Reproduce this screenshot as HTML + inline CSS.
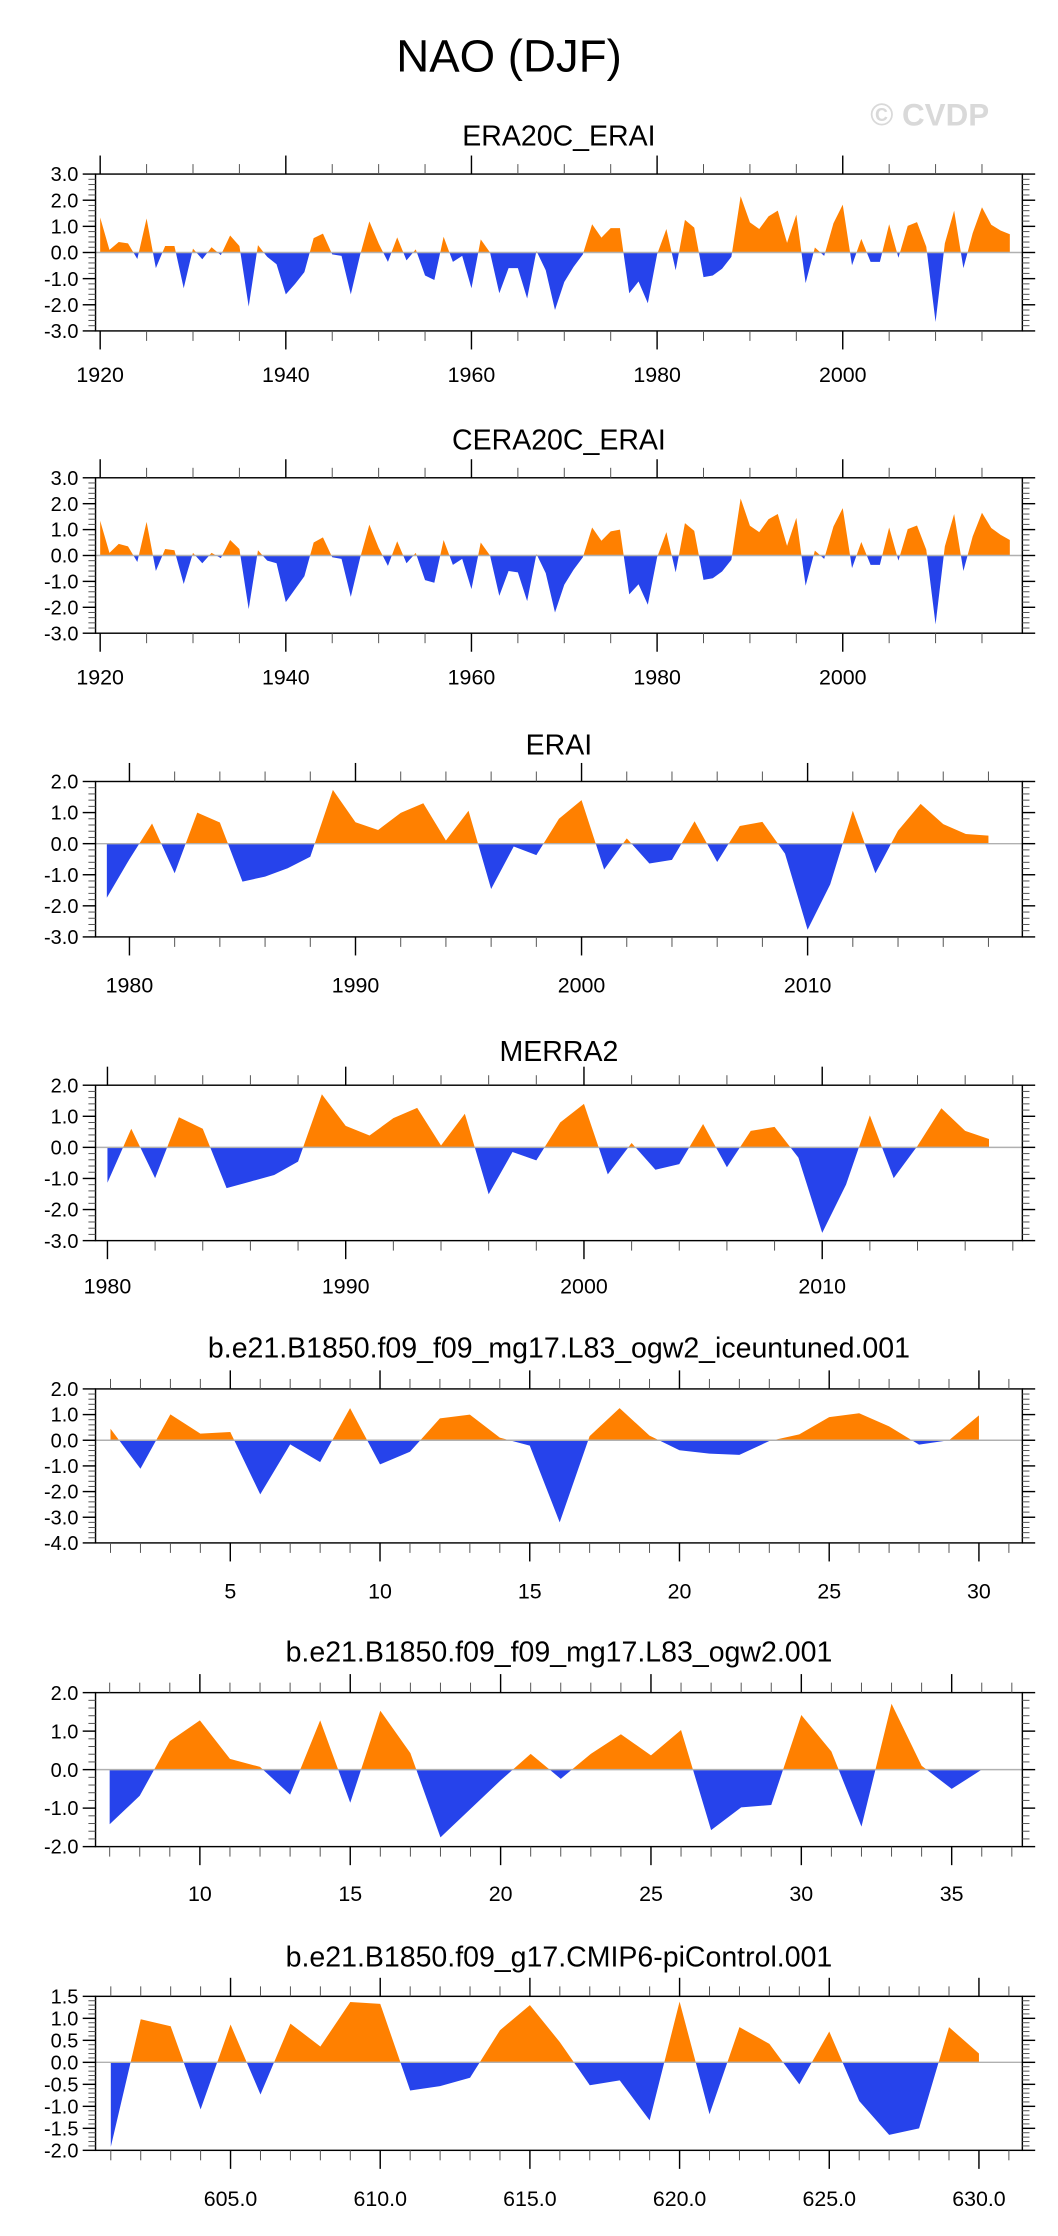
<!DOCTYPE html>
<html><head><meta charset="utf-8"><title>NAO (DJF)</title>
<style>html,body{margin:0;padding:0;background:#fff}svg{display:block}</style></head>
<body>
<svg id="chart" xmlns="http://www.w3.org/2000/svg" width="1058" height="2236" viewBox="0 0 742 1568" font-family="Liberation Sans, sans-serif">
<text x="357" y="50" font-size="32" text-anchor="middle">NAO (DJF)</text>
<text x="652" y="88" font-size="22" font-weight="bold" fill="#d9d9d9" text-anchor="middle">© CVDP</text>
</svg>
<script>
const p1Years = [];for(let y=1920;y<=2018;y++)p1Years.push(y);
const p1Vals = [1.34,0.1,0.4,0.35,-0.25,1.3,-0.6,0.25,0.25,-1.37,0.15,-0.26,0.2,-0.1,0.65,0.25,-2.07,0.28,-0.17,-0.45,-1.6,-1.2,-0.75,0.55,0.72,-0.07,-0.13,-1.6,-0.1,1.19,0.35,-0.36,0.58,-0.3,0.12,-0.88,-1.05,0.6,-0.36,-0.13,-1.37,0.5,0.0,-1.56,-0.6,-0.6,-1.76,0.06,-0.68,-2.2,-1.13,-0.55,-0.07,1.08,0.57,0.93,0.93,-1.56,-1.11,-1.94,-0.07,0.9,-0.68,1.25,0.95,-0.94,-0.88,-0.62,-0.17,2.15,1.15,0.9,1.38,1.6,0.37,1.45,-1.17,0.19,-0.13,1.12,1.83,-0.49,0.52,-0.36,-0.36,1.08,-0.2,1.02,1.16,0.22,-2.66,0.35,1.6,-0.6,0.74,1.73,1.06,0.84,0.7];
const p2Vals = [1.34,0.1,0.45,0.35,-0.25,1.3,-0.6,0.25,0.2,-1.1,0.1,-0.3,0.1,-0.1,0.6,0.25,-2.07,0.2,-0.2,-0.3,-1.8,-1.3,-0.8,0.5,0.7,-0.07,-0.13,-1.6,-0.1,1.19,0.3,-0.4,0.55,-0.3,0.1,-0.95,-1.05,0.6,-0.36,-0.13,-1.3,0.5,0.0,-1.56,-0.6,-0.65,-1.76,0.06,-0.68,-2.2,-1.13,-0.55,-0.07,1.08,0.57,0.93,1.0,-1.5,-1.11,-1.9,-0.07,0.9,-0.65,1.25,0.95,-0.94,-0.88,-0.62,-0.17,2.2,1.15,0.9,1.4,1.6,0.37,1.45,-1.17,0.19,-0.13,1.12,1.83,-0.49,0.52,-0.36,-0.36,1.08,-0.2,1.02,1.16,0.22,-2.66,0.35,1.6,-0.6,0.74,1.65,1.06,0.8,0.6];
const p3Years = [];for(let y=1979;y<=2018;y++)p3Years.push(y);
const p3Vals = [-1.74,-0.5,0.65,-0.95,1.0,0.68,-1.22,-1.06,-0.79,-0.42,1.73,0.69,0.44,0.99,1.3,0.1,1.06,-1.46,-0.09,-0.37,0.8,1.4,-0.83,0.17,-0.64,-0.52,0.72,-0.59,0.57,0.7,-0.32,-2.77,-1.31,1.06,-0.95,0.42,1.28,0.63,0.31,0.26];
const p4Years = [];for(let y=1980;y<=2017;y++)p4Years.push(y);
const p4Vals = [-1.14,0.6,-0.99,0.97,0.6,-1.31,-1.1,-0.89,-0.46,1.71,0.69,0.38,0.94,1.27,0.06,1.08,-1.51,-0.15,-0.42,0.8,1.4,-0.87,0.14,-0.72,-0.54,0.75,-0.64,0.53,0.66,-0.33,-2.75,-1.2,1.03,-0.99,0.05,1.26,0.53,0.27];
const p5Years = [];for(let y=1;y<=30;y++)p5Years.push(y);
const p5Vals = [0.45,-1.11,1.01,0.26,0.32,-2.11,-0.16,-0.85,1.25,-0.94,-0.45,0.85,1.0,0.1,-0.21,-3.2,0.16,1.25,0.18,-0.39,-0.52,-0.57,-0.03,0.23,0.9,1.05,0.54,-0.17,0.0,0.97];
const p6Years = [];for(let y=7;y<=36;y++)p6Years.push(y);
const p6Vals = [-1.42,-0.68,0.74,1.28,0.28,0.07,-0.65,1.28,-0.86,1.53,0.43,-1.76,-1.02,-0.28,0.41,-0.24,0.41,0.92,0.37,1.03,-1.57,-0.98,-0.92,1.42,0.47,-1.48,1.71,0.1,-0.5,0.0];
const p7Years = [];for(let y=601;y<=630;y++)p7Years.push(y);
const p7Vals = [-1.92,0.98,0.82,-1.07,0.86,-0.73,0.88,0.36,1.37,1.33,-0.64,-0.54,-0.35,0.73,1.3,0.46,-0.52,-0.41,-1.32,1.38,-1.18,0.8,0.42,-0.5,0.7,-0.88,-1.65,-1.5,0.8,0.2];

const NS='http://www.w3.org/2000/svg';
const svg=document.getElementById('chart');
function mk(tag,attrs,parent){const e=document.createElementNS(NS,tag);for(const k in attrs)e.setAttribute(k,attrs[k]);(parent||svg).appendChild(e);return e;}
const L=67,R=717;
const panels=[
 {id:'era20c',title:'ERA20C_ERAI',xs:p1Years,ys:p1Vals,x0:1919.5,x1:2019.35,top:122,bot:232,y0:-3,y1:3,yMaj:1,yMin:0.2,xMajStart:1920,xMaj:20,xMin:5,xMinStart:1920,xMinEnd:2015,tt:95,lt:262},
 {id:'cera20c',title:'CERA20C_ERAI',xs:p1Years,ys:p2Vals,x0:1919.5,x1:2019.35,top:335,bot:444,y0:-3,y1:3,yMaj:1,yMin:0.2,xMajStart:1920,xMaj:20,xMin:5,xMinStart:1920,xMinEnd:2015,tt:308,lt:474},
 {id:'erai',title:'ERAI',xs:p3Years,ys:p3Vals,x0:1978.5,x1:2019.5,top:548,bot:657,y0:-3,y1:2,yMaj:1,yMin:0.2,xMajStart:1980,xMaj:10,xMin:2,xMinStart:1980,xMinEnd:2018,tt:522,lt:690},
 {id:'merra2',title:'MERRA2',xs:p4Years,ys:p4Vals,x0:1979.5,x1:2018.4,top:761,bot:870,y0:-3,y1:2,yMaj:1,yMin:0.2,xMajStart:1980,xMaj:10,xMin:2,xMinStart:1980,xMinEnd:2018,tt:737,lt:901},
 {id:'iceuntuned',title:'b.e21.B1850.f09_f09_mg17.L83_ogw2_iceuntuned.001',xs:p5Years,ys:p5Vals,x0:0.5,x1:31.45,top:974,bot:1082,y0:-4,y1:2,yMaj:1,yMin:0.2,xMajStart:5,xMaj:5,xMin:1,xMinStart:1,xMinEnd:31,tt:945,lt:1115},
 {id:'ogw2',title:'b.e21.B1850.f09_f09_mg17.L83_ogw2.001',xs:p6Years,ys:p6Vals,x0:6.53,x1:37.35,top:1187,bot:1295,y0:-2,y1:2,yMaj:1,yMin:0.2,xMajStart:10,xMaj:5,xMin:1,xMinStart:7,xMinEnd:37,tt:1158,lt:1327},
 {id:'picontrol',title:'b.e21.B1850.f09_g17.CMIP6-piControl.001',xs:p7Years,ys:p7Vals,x0:600.49,x1:631.45,top:1400,bot:1508,y0:-2,y1:1.5,yMaj:0.5,yMin:0.1,xMajStart:605,xMaj:5,xMin:1,xMinStart:601,xMinEnd:631,tt:1372,lt:1541}
];
panels.forEach(p=>{
 const g=mk('g',{});
 
 
 const sx=v=>L+(v-p.x0)/(p.x1-p.x0)*(R-L);
 const sy=v=>p.bot-(v-p.y0)/(p.y1-p.y0)*(p.bot-p.top);
 const t=mk('text',{x:392,y:p.tt+7,'font-size':20,'text-anchor':'middle'},g);
 t.textContent=p.title;
 
 
 const zy=sy(0);
 let d='M'+sx(p.xs[0])+','+zy;
 p.xs.forEach((x,i)=>{d+=' L'+sx(x)+','+sy(p.ys[i]);});
 d+=' L'+sx(p.xs[p.xs.length-1])+','+zy+' Z';
 const cpU=mk('clipPath',{id:'cu-'+p.id},g);mk('rect',{x:L,y:p.top-50,width:R-L,height:zy-p.top+50},cpU);
 const cpD=mk('clipPath',{id:'cd-'+p.id},g);mk('rect',{x:L,y:zy,width:R-L,height:p.bot-zy+50},cpD);
 const up=mk('path',{d:d,fill:'#ff8000','clip-path':'url(#cu-'+p.id+')'},g);
 
 
 const dn=mk('path',{d:d,fill:'#2643eb','clip-path':'url(#cd-'+p.id+')'},g);
 
 
 const zl=mk('line',{x1:L,x2:R,y1:zy,y2:zy,stroke:'#b0b0b0','stroke-width':1},g);
 
 
 const box=mk('rect',{x:L,y:p.top,width:R-L,height:p.bot-p.top,fill:'none',stroke:'#000','stroke-width':1},g);
 
 
 const n=Math.round((p.y1-p.y0)/p.yMin);
 for(let i=0;i<=n;i++){
  const v=p.y0+i*p.yMin;const y=sy(v);
  const maj=Math.abs(v/p.yMaj-Math.round(v/p.yMaj))<1e-6;
  const len=maj?9:5;
  mk('line',{x1:L-len,x2:L,y1:y,y2:y,stroke:maj?'#000':'#555','stroke-width':maj?1:0.7},g);
  mk('line',{x1:R,x2:R+len,y1:y,y2:y,stroke:maj?'#000':'#555','stroke-width':maj?1:0.7},g);
  if(maj){const tl=mk('text',{x:L-12,y:y+5,'font-size':14,'text-anchor':'end'},g);
   let s=(Math.round(v*10)/10).toFixed(1);if(s==='-0.0')s='0.0';tl.textContent=s;
   
   }
 }
 for(let v=p.xMinStart;v<=p.xMinEnd+1e-6;v+=p.xMin){
  const x=sx(v);const maj=((v-p.xMajStart)%p.xMaj+p.xMaj)%p.xMaj===0;
  const len=maj?13:7;
  mk('line',{x1:x,x2:x,y1:p.top-len,y2:p.top,stroke:maj?'#000':'#555','stroke-width':maj?1:0.7},g);
  mk('line',{x1:x,x2:x,y1:p.bot,y2:p.bot+len,stroke:maj?'#000':'#555','stroke-width':maj?1:0.7},g);
  if(maj){const tl=mk('text',{x:x,y:p.lt+6,'font-size':15,'text-anchor':'middle'},g);tl.textContent=p.id==='picontrol'?v.toFixed(1):String(v);
   
   }
 }
});
</script>
</body></html>
